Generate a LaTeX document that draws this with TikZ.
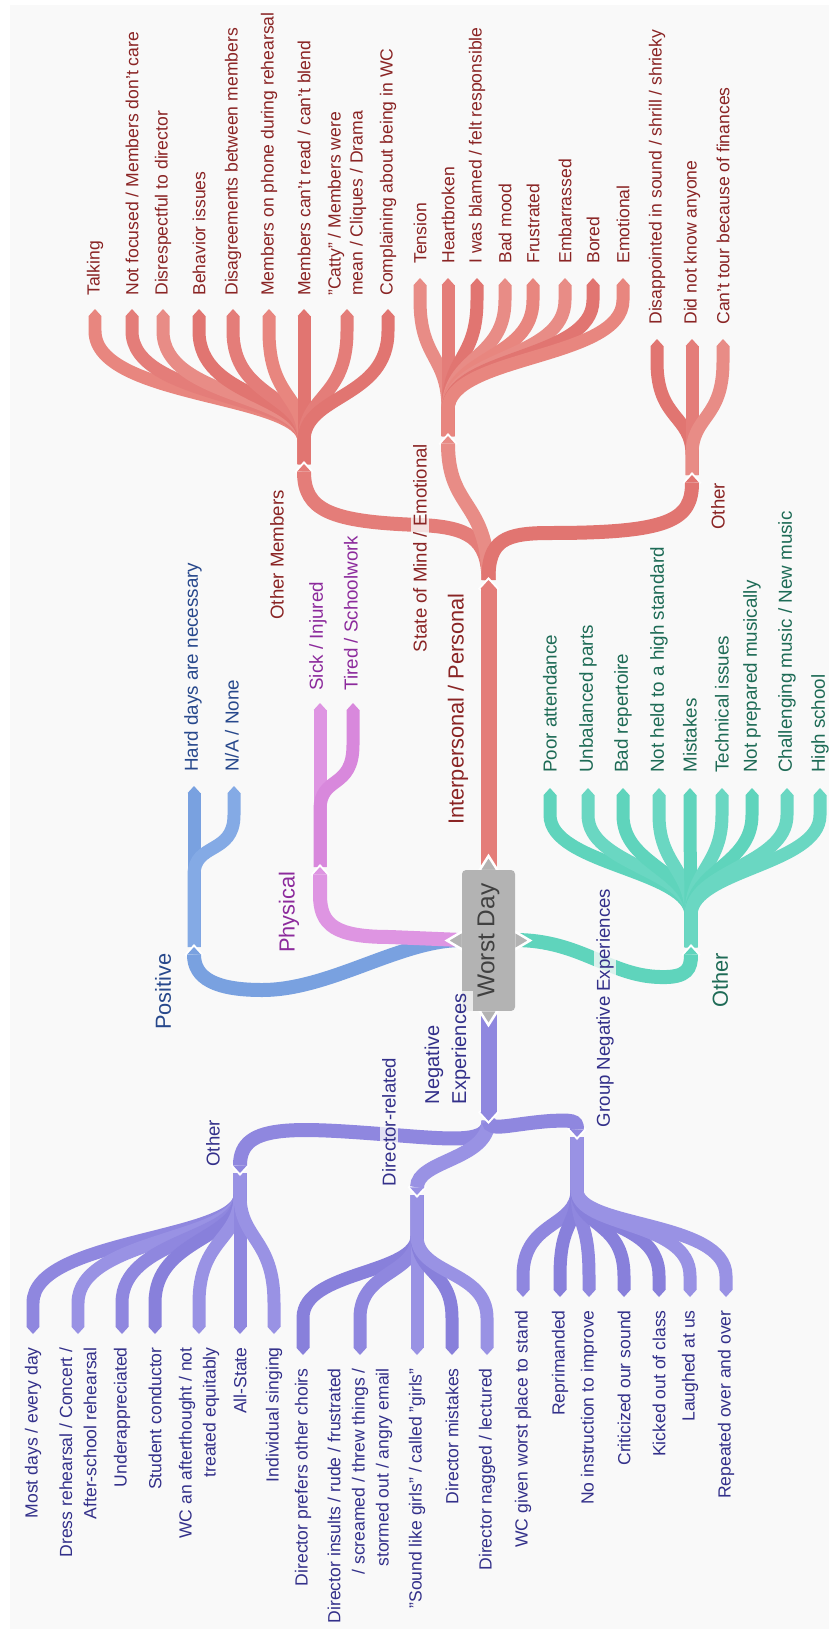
\documentclass[tikz,border=0pt]{standalone}
\usepackage{fontspec}
\setmainfont{Liberation Sans}
\usetikzlibrary{arrows.meta,calc}

\definecolor{bgc}{HTML}{F9F9F9}
\definecolor{boxc}{HTML}{B3B3B3}
\definecolor{r1}{HTML}{E47D79}
\definecolor{r2}{HTML}{E8867F}
\definecolor{r3}{HTML}{E17571}
\definecolor{r4}{HTML}{E88C86}
\definecolor{t1}{HTML}{5FD4BC}
\definecolor{t2}{HTML}{6AD7C2}
\definecolor{b1}{HTML}{79A1E0}
\definecolor{b2}{HTML}{84AAE5}
\definecolor{m1}{HTML}{DE95E2}
\definecolor{m2}{HTML}{D888DC}
\definecolor{p1}{HTML}{8F87DF}
\definecolor{p2}{HTML}{9992E4}
\definecolor{p3}{HTML}{8880DB}
\definecolor{redtxt}{HTML}{8A2424}
\definecolor{teatxt}{HTML}{1E6B56}
\definecolor{blutxt}{HTML}{27488C}
\definecolor{phytxt}{HTML}{8C2A9C}
\definecolor{negtxt}{HTML}{33308A}

\newcommand\fleaf{\fontsize{10pt}{12.5pt}\selectfont}
\newcommand\fleafb{\fontsize{10.7pt}{13pt}\selectfont}
\newcommand\fleafp{\fontsize{10pt}{13.7pt}\selectfont}
\newcommand\fcat{\fontsize{10.6pt}{13pt}\selectfont}
\newcommand\fneg{\fontsize{11.4pt}{15.4pt}\selectfont}
\newcommand\fbig{\fontsize{12.4pt}{15pt}\selectfont}
\newcommand\froot{\fontsize{13.9pt}{16pt}\selectfont}

\begin{document}
\begin{tikzpicture}[x=0.02cm, y=-0.02cm,
    tipped/.style={-{Triangle[width=0pt 1,length=0pt .55,line width=0pt]}},
    leaf/.style={tipped, draw=#1, line width=.26cm},
    stem/.style={tipped, draw=#1, line width=.28cm},
    trunk/.style={tipped, draw=#1, line width=.32cm},
    notch/.style={draw=white, line width=.08cm},
    uplab/.style={rotate=90, anchor=west, inner sep=0pt, align=left},
    dnlab/.style={rotate=90, anchor=east, inner sep=0pt, align=right, font=\fleafp, text=negtxt},
    catlab/.style={rotate=90, anchor=west, inner sep=0pt, align=left},
    halo/.style={fill=bgc, fill opacity=.8, text opacity=1, inner sep=1.5pt},
    rootbox/.style={rotate=90, fill=boxc, rounded corners=.08cm, minimum width=2.82cm,
      minimum height=1.06cm, inner sep=0pt, font=\froot, text=black!75},
    pointer/.style={fill=boxc, draw=white, line width=.05cm}]

    \useasboundingbox (0,0) rectangle (829,1629);
    \fill[white] (0,0) rectangle (829,1629);
    \fill[bgc] (10,5) rectangle (829,1629);

    % junctions
    \coordinate (wdt) at (488.5,870);
    \coordinate (wdb) at (488.5,1011);
    \coordinate (wdl) at (462,940);
    \coordinate (wdr) at (515,940);
    \coordinate (ip) at (488.5,580);
    \coordinate (om) at (304,464);
    \coordinate (sm) at (448,436);
    \coordinate (ro) at (692,475);
    \coordinate (tl) at (691,947);
    \coordinate (ps) at (194,947);
    \coordinate (ph) at (320,867);
    \coordinate (ne) at (488.5,1121);
    \coordinate (no) at (240,1173);
    \coordinate (dr) at (417,1195);
    \coordinate (gn) at (577,1137);

    % Other Members
    \foreach \x/\c/\t [count=\i] in {95/r2/Talking, 132/r1/{Not focused / Members don't care},
        163/r4/Disrespectful to director, 199/r3/Behavior issues,
        233/r1/Disagreements between members, 269/r2/Members on phone during rehearsal,
        304/r3/{Members can't read / can't blend}, 347/r1/{"Catty" / Members were\\mean / Cliques / Drama},
        388/r3/Complaining about being in WC}{
      \coordinate (om\i) at (\x,309);
      \draw[leaf=\c] (om) -- (304,441) .. controls (304,394) and (\x,399) .. (\x,331) -- (om\i);
      \node[uplab, font=\fleaf, text=redtxt] (oml\i) at (\x,296) {\t};
    }

    % State of Mind / Emotional
    \foreach \x/\c/\t [count=\i] in {420/r4/Tension, 448/r1/Heartbroken, 477/r3/{I was blamed / felt responsible},
        505/r4/Bad mood, 533/r2/Frustrated, 565/r4/Embarrassed, 593/r3/Bored, 623/r2/Emotional}{
      \coordinate (sm\i) at (\x,278);
      \draw[leaf=\c] (sm) -- (448,410) .. controls (448,355) and (\x,360) .. (\x,300) -- (sm\i);
      \node[uplab, font=\fleaf, text=redtxt] (sml\i) at (\x,264) {\t};
    }

    % Other (interpersonal)
    \foreach \x/\c/\t [count=\i] in {657/r3/{Disappointed in sound / shrill / shrieky},
        692/r1/Did not know anyone, 723/r4/Can't tour because of finances}{
      \coordinate (ro\i) at (\x,339);
      \draw[leaf=\c] (ro) -- (692,455) .. controls (692,415) and (\x,420) .. (\x,362) -- (ro\i);
      \node[uplab, font=\fleaf, text=redtxt] (rol\i) at (\x,325) {\t};
    }

    % Other (group)
    \foreach \x/\c/\t [count=\i] in {550/t1/Poor attendance, 588/t2/Unbalanced parts, 623/t1/Bad repertoire,
        659/t2/Not held to a high standard, 690/t1/Mistakes, 722/t2/Technical issues,
        752/t1/Not prepared musically, 787/t2/{Challenging music / New music}, 820/t2/High school}{
      \coordinate (tl\i) at (\x,788);
      \draw[leaf=\c] (tl) -- (691,915) .. controls (691,870) and (\x,865) .. (\x,815) -- (tl\i);
      \node[uplab, font=\fleafb, text=teatxt] (tll\i) at (\x,773) {\t};
    }

    % Positive
    \coordinate (ps1) at (194,786);
    \coordinate (ps2) at (234,786);
    \draw[leaf=b1] (ps) -- (ps1);
    \draw[leaf=b2] (ps) -- (194,875) .. controls (194,842) and (234,855) .. (234,815) -- (ps2);
    \node[uplab, font=\fleafb, text=blutxt] (psl1) at (193,772) {Hard days are necessary};
    \node[uplab, font=\fleafb, text=blutxt] (psl2) at (232,772) {N/A / None};

    % Physical
    \coordinate (ph1) at (320,703);
    \coordinate (ph2) at (353,703);
    \draw[leaf=m1] (ph) -- (ph1);
    \draw[leaf=m2] (ph) -- (320,810) .. controls (320,775) and (353,790) .. (353,745) -- (ph2);
    \node[uplab, font=\fleafb, text=phytxt] (phl1) at (318,691) {Sick / Injured};
    \node[uplab, font=\fleafb, text=phytxt] (phl2) at (351,691) {Tired / Schoolwork};

    % Other (negative)
    \foreach \x/\c/\t [count=\i] in {33/p1/{Most days / every day},
        78/p2/{Dress rehearsal / Concert /\\After-school rehearsal},
        122/p1/Underappreciated, 155/p3/Student conductor,
        199/p2/{WC an afterthought / not\\treated equitably},
        240/p1/All-State, 274/p2/Individual singing}{
      \coordinate (no\i) at (\x,1334);
      \draw[leaf=\c] (no) -- (240,1195) .. controls (240,1240) and (\x,1238) .. (\x,1303) -- (no\i);
      \node[dnlab] (nol\i) at (\x,1347) {\t};
    }

    % Director-related
    \foreach \x/\c/\t [count=\i] in {303/p3/Director prefers other choirs,
        360/p1/{Director insults / rude / frustrated\\/ screamed / threw things /\\stormed out / angry email},
        417/p2/{"Sound like girls" / called "girls"}, 452/p3/Director mistakes,
        487/p2/{Director nagged / lectured}}{
      \coordinate (dr\i) at (\x,1355);
      \draw[leaf=\c] (dr) -- (417,1236) .. controls (417,1275) and (\x,1270) .. (\x,1318) -- (dr\i);
      \node[dnlab] (drl\i) at (\x,1368) {\t};
    }

    % Group Negative Experiences
    \foreach \x/\c/\t [count=\i] in {523/p1/WC given worst place to stand, 560/p3/Reprimanded,
        589/p1/No instruction to improve, 624/p3/Criticized our sound, 659/p3/Kicked out of class,
        690/p2/Laughed at us, 726/p2/Repeated over and over}{
      \coordinate (gn\i) at (\x,1297);
      \draw[leaf=\c] (gn) -- (577,1190) .. controls (577,1228) and (\x,1220) .. (\x,1276) -- (gn\i);
      \node[dnlab] (gnl\i) at (\x,1310) {\t};
    }

    % notches where a branch splits
    \foreach \j in {om,sm,ro,tl,ps,ph}
      \draw[notch] ($(\j)+(-8,9)$) -- (\j) -- ($(\j)+(8,9)$);
    \foreach \j in {no,dr,gn}
      \draw[notch] ($(\j)+(-8,-9)$) -- (\j) -- ($(\j)+(8,-9)$);

    % second level
    \draw[stem=r1] (ip) .. controls (488,538) and (468,527) .. (420,525) .. controls (330,522) and (304,510) .. (om);
    \draw[stem=r4] (ip) .. controls (488,500) and (448,510) .. (sm);
    \draw[stem=r3] (ip) .. controls (488,540) and (505,533) .. (550,533) .. controls (670,533) and (692,520) .. (ro);
    \draw[stem=p1] (ne) .. controls (488,1140) and (465,1140) .. (420,1137) .. controls (300,1128) and (240,1120) .. (no);
    \draw[stem=p2] (ne) .. controls (488,1160) and (417,1160) .. (dr);
    \draw[stem=p1] (ne) .. controls (490,1132) and (510,1124) .. (550,1121) .. controls (572,1120) and (577,1120) .. (gn);
    \draw[stem=t1] (wdr) .. controls (580,940) and (610,976) .. (660,977) .. controls (688,978) and (691,968) .. (tl);
    \draw[stem=b1] (wdl) .. controls (400,940) and (330,990) .. (262,990) .. controls (215,990) and (194,978) .. (ps);
    \draw[stem=m1] (wdl) -- (390,937) .. controls (335,937) and (320,925) .. (320,895) -- (ph);

    \draw[notch] ($(ip)+(-9,10)$) -- (ip) -- ($(ip)+(9,10)$);
    \draw[notch] ($(ne)+(-9,-10)$) -- (ne) -- ($(ne)+(9,-10)$);

    % trunks
    \draw[trunk=r1] (wdt) -- (ip);
    \draw[trunk=p1] (wdb) -- (ne);

    % Worst Day
    \filldraw[pointer] (479,871) -- (488.5,856) -- (498,871) -- cycle;
    \filldraw[pointer] (479,1010) -- (488.5,1025) -- (498,1010) -- cycle;
    \filldraw[pointer] (463,931) -- (447,940.5) -- (463,950) -- cycle;
    \filldraw[pointer] (514,931) -- (530,940.5) -- (514,950) -- cycle;
    \node[rootbox] (wd) at (488.5,940.5) {Worst Day};

    % branch labels
    \node[catlab, font=\fbig, text=redtxt] (ipl) at (458,825) {Interpersonal / Personal};
    \node[catlab, font=\fcat, text=redtxt] (oml) at (277,620) {Other Members};
    \node[catlab, halo, font=\fcat, text=redtxt] (sml) at (420,655) {State of Mind / Emotional};
    \node[catlab, font=\fcat, text=redtxt] (rol) at (718,530) {Other};
    \node[catlab, font=\fbig, text=phytxt] (phl) at (289,953) {Physical};
    \node[catlab, font=\fbig, text=blutxt] (psl) at (163,1030) {Positive};
    \node[catlab, font=\fbig, text=teatxt] (tll) at (720,1008) {Other};
    \node[catlab, halo, font=\fcat, text=negtxt] (gnl) at (605,1130) {Group Negative Experiences};
    \node[catlab, halo, font=\fneg, text=negtxt] (nel) at (447.5,1107) {Negative\\Experiences};
    \node[catlab, halo, font=\fcat, text=negtxt] (drl) at (389,1189) {Director-related};
    \node[catlab, font=\fcat, text=negtxt] (nol) at (213,1167) {Other};
\end{tikzpicture}
\end{document}
